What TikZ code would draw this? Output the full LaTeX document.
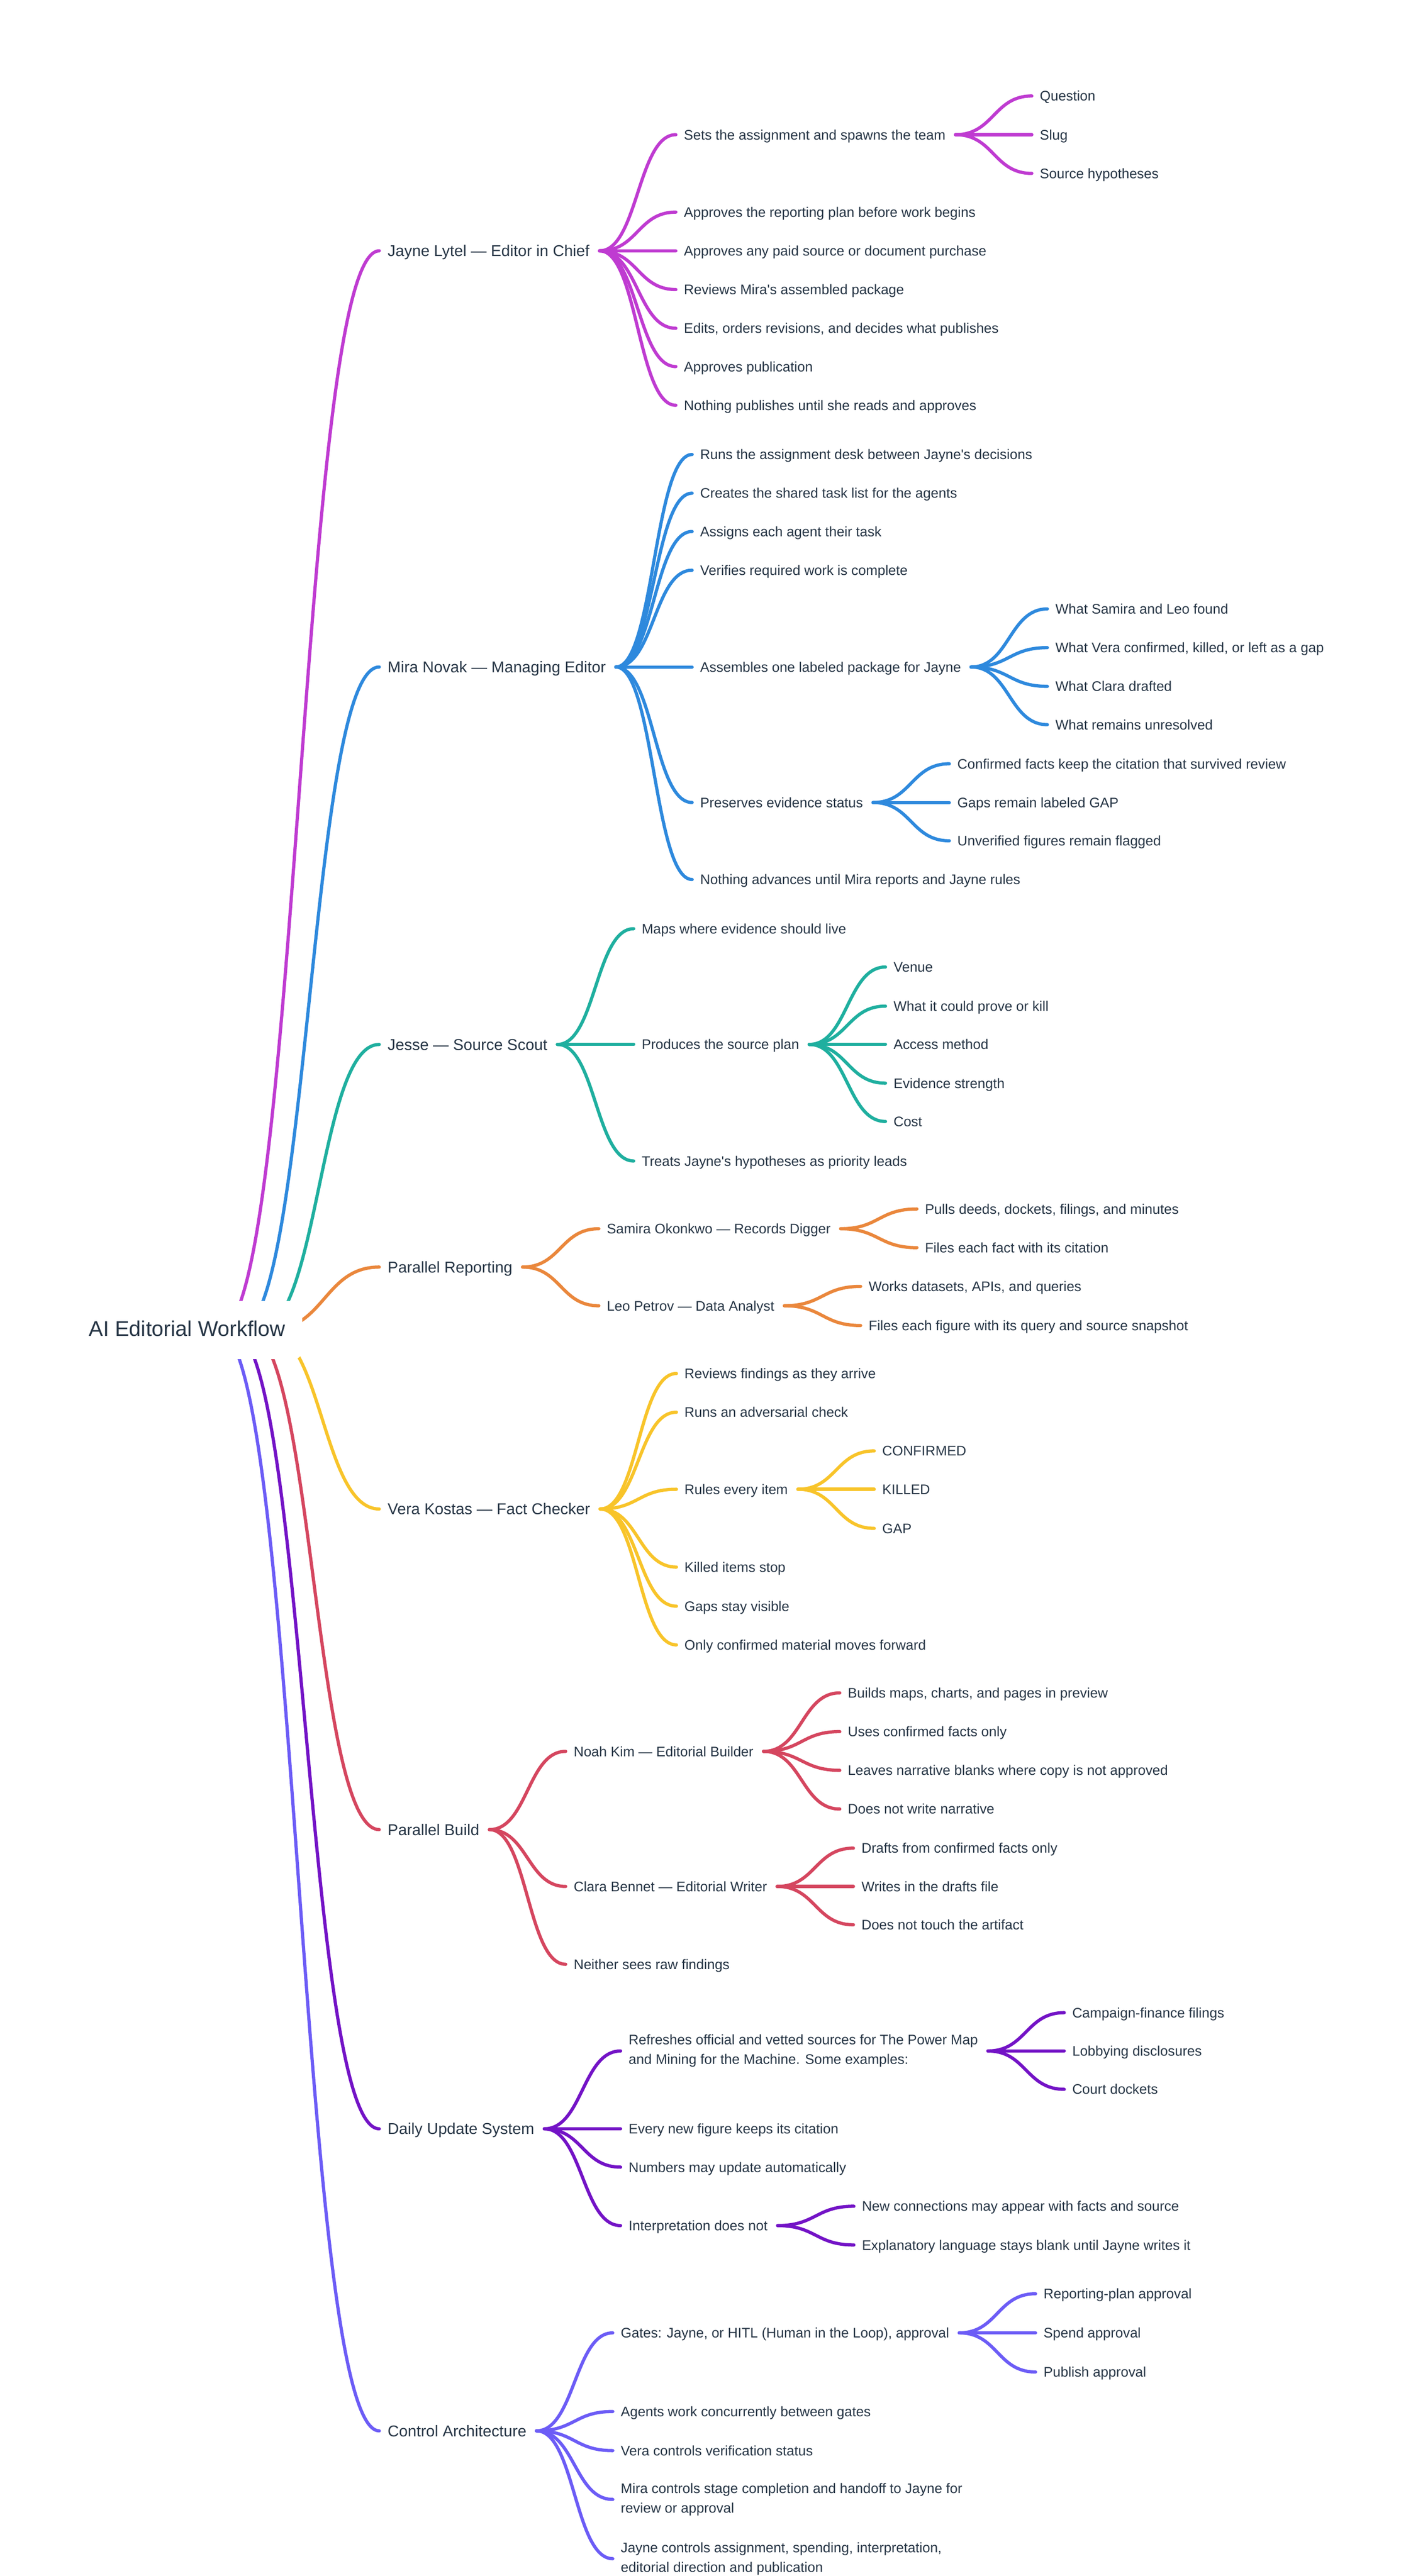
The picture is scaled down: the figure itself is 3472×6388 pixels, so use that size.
\documentclass[tikz,border=0pt]{standalone}
\usepackage{fontspec}
\setmainfont{Liberation Sans}
\usetikzlibrary{calc}
\definecolor{txt}{HTML}{263545}
\definecolor{cA}{HTML}{BF3BD1}
\definecolor{cB}{HTML}{2E89DD}
\definecolor{cC}{HTML}{1FAF9F}
\definecolor{cD}{HTML}{EA873C}
\definecolor{cE}{HTML}{F8C42A}
\definecolor{cF}{HTML}{D5465F}
\definecolor{cG}{HTML}{7313C6}
\definecolor{cH}{HTML}{6C5CF6}
\tikzset{
  leaf/.style={anchor=west,inner sep=0pt,outer sep=0pt,text=txt,font=\fontsize{6.88}{9.7}\selectfont,text height=4.93pt,text depth=0pt},
  multi/.style={leaf,align=left,text height={},text depth={}},
  lvl/.style={anchor=west,inner sep=0pt,outer sep=0pt,text=txt,font=\fontsize{7.78}{10}\selectfont,text height=5.57pt,text depth=0pt},
  rootnode/.style={inner sep=0pt,outer sep=0pt,text=txt,font=\fontsize{10.58}{12}\selectfont},
  lk/.style={line width=1.6pt,line cap=round},
  rlk/.style={line width=1.6pt,line cap=round},
}
\newcommand\mmlink[3]{%
  \draw[lk,#1] let \p1=($(#2.east)+(25,0)$), \p2=($(#3.west)+(-20,0)$) in
    (\p1) .. controls ({0.5*\x1+0.5*\x2},\y1) and ({0.5*\x1+0.5*\x2},\y2) .. (\p2);}
\newcommand\mmkid[5]{%
  \node[leaf] (#3) at ($(#2.east |- 0,#4)+(234,0)$) {#5};
  \mmlink{#1}{#2}{#3}}
\newcommand\mmkidm[5]{%
  \node[multi] (#3) at ($(#2.east |- 0,#4)+(234,0)$) {#5};
  \mmlink{#1}{#2}{#3}}
\newcommand\mmroot[3]{%
  \draw[rlk,#1] let \p1=(#3,3298), \p2=($(#2.west)+(-21,0)$) in
    (\p1) .. controls ({0.5*\x1+0.5*\x2},\y1) and ({0.5*\x1+0.5*\x2},\y2) .. (\p2);}
\newcommand\q{\textquotesingle}
\begin{document}
\begin{tikzpicture}[x=0.2pt,y=-0.2pt]
\fill[white] (0,0) rectangle (3472,6388);
\useasboundingbox (0,0) rectangle (3472,6388);

% ---------- Jayne
\node[lvl] (J) at (961,622) {Jayne Lytel — Editor in Chief};
\mmkid{cA}{J}{j1}{334}{Sets the assignment and spawns the team}
\mmkid{cA}{j1}{j1a}{238}{Question}
\mmkid{cA}{j1}{j1b}{334}{Slug}
\mmkid{cA}{j1}{j1c}{430}{Source hypotheses}
\mmkid{cA}{J}{j2}{526}{Approves the reporting plan before work begins}
\mmkid{cA}{J}{j3}{622}{Approves any paid source or document purchase}
\mmkid{cA}{J}{j4}{718}{Reviews Mira\q s assembled package}
\mmkid{cA}{J}{j5}{814}{Edits, orders revisions, and decides what publishes}
\mmkid{cA}{J}{j6}{909}{Approves publication}
\mmkid{cA}{J}{j7}{1005}{Nothing publishes until she reads and approves}

% ---------- Mira
\node[lvl] (M) at (961,1654) {Mira Novak — Managing Editor};
\mmkid{cB}{M}{m1}{1127}{Runs the assignment desk between Jayne\q s decisions}
\mmkid{cB}{M}{m2}{1223}{Creates the shared task list for the agents}
\mmkid{cB}{M}{m3}{1318}{Assigns each agent their task}
\mmkid{cB}{M}{m4}{1414}{Verifies required work is complete}
\mmkid{cB}{M}{m5}{1654}{Assembles one labeled package for Jayne}
\mmkid{cB}{m5}{m5a}{1510}{What Samira and Leo found}
\mmkid{cB}{m5}{m5b}{1606}{What Vera confirmed, killed, or left as a gap}
\mmkid{cB}{m5}{m5c}{1702}{What Clara drafted}
\mmkid{cB}{m5}{m5d}{1797}{What remains unresolved}
\mmkid{cB}{M}{m6}{1990}{Preserves evidence status}
\mmkid{cB}{m6}{m6a}{1894}{Confirmed facts keep the citation that survived review}
\mmkid{cB}{m6}{m6b}{1990}{Gaps remain labeled GAP}
\mmkid{cB}{m6}{m6c}{2085}{Unverified figures remain flagged}
\mmkid{cB}{M}{m7}{2181}{Nothing advances until Mira reports and Jayne rules}

% ---------- Jesse
\node[lvl] (S) at (961,2590) {Jesse — Source Scout};
\mmkid{cC}{S}{s1}{2303}{Maps where evidence should live}
\mmkid{cC}{S}{s2}{2590}{Produces the source plan}
\mmkid{cC}{s2}{s2a}{2398}{Venue}
\mmkid{cC}{s2}{s2b}{2495}{What it could prove or kill}
\mmkid{cC}{s2}{s2c}{2590}{Access method}
\mmkid{cC}{s2}{s2d}{2686}{Evidence strength}
\mmkid{cC}{s2}{s2e}{2781}{Cost}
\mmkid{cC}{S}{s3}{2879}{Treats Jayne\q s hypotheses as priority leads}

% ---------- Parallel Reporting
\node[lvl] (P) at (961,3142) {Parallel Reporting};
\mmkid{cD}{P}{p1}{3047}{Samira Okonkwo — Records Digger}
\mmkid{cD}{p1}{p1a}{2998}{Pulls deeds, dockets, filings, and minutes}
\mmkid{cD}{p1}{p1b}{3094}{Files each fact with its citation}
\mmkid{cD}{P}{p2}{3238}{Leo Petrov — Data Analyst}
\mmkid{cD}{p2}{p2a}{3190}{Works datasets, APIs, and queries}
\mmkid{cD}{p2}{p2b}{3287}{Files each figure with its query and source snapshot}

% ---------- Vera
\node[lvl] (V) at (961,3742) {Vera Kostas — Fact Checker};
\mmkid{cE}{V}{v1}{3406}{Reviews findings as they arrive}
\mmkid{cE}{V}{v2}{3502}{Runs an adversarial check}
\mmkid{cE}{V}{v3}{3693}{Rules every item}
\mmkid{cE}{v3}{v3a}{3598}{CONFIRMED}
\mmkid{cE}{v3}{v3b}{3693}{KILLED}
\mmkid{cE}{v3}{v3c}{3790}{GAP}
\mmkid{cE}{V}{v4}{3886}{Killed items stop}
\mmkid{cE}{V}{v5}{3983}{Gaps stay visible}
\mmkid{cE}{V}{v6}{4079}{Only confirmed material moves forward}

% ---------- Parallel Build
\node[lvl] (B) at (961,4537) {Parallel Build};
\mmkid{cF}{B}{b1}{4343}{Noah Kim — Editorial Builder}
\mmkid{cF}{b1}{b1a}{4198}{Builds maps, charts, and pages in preview}
\mmkid{cF}{b1}{b1b}{4294}{Uses confirmed facts only}
\mmkid{cF}{b1}{b1c}{4390}{Leaves narrative blanks where copy is not approved}
\mmkid{cF}{b1}{b1d}{4486}{Does not write narrative}
\mmkid{cF}{B}{b2}{4678}{Clara Bennet — Editorial Writer}
\mmkid{cF}{b2}{b2a}{4583}{Drafts from confirmed facts only}
\mmkid{cF}{b2}{b2b}{4678}{Writes in the drafts file}
\mmkid{cF}{b2}{b2c}{4773}{Does not touch the artifact}
\mmkid{cF}{B}{b3}{4871}{Neither sees raw findings}

% ---------- Daily Update System
\node[lvl] (D) at (961,5279) {Daily Update System};
\mmkidm{cG}{D}{d1}{5086}{Refreshes official and vetted sources for The Power Map\\and Mining for the Machine. Some examples:}
\mmkid{cG}{d1}{d1a}{4991}{Campaign-finance filings}
\mmkid{cG}{d1}{d1b}{5086}{Lobbying disclosures}
\mmkid{cG}{d1}{d1c}{5181}{Court dockets}
\mmkid{cG}{D}{d2}{5279}{Every new figure keeps its citation}
\mmkid{cG}{D}{d3}{5374}{Numbers may update automatically}
\mmkid{cG}{D}{d4}{5519}{Interpretation does not}
\mmkid{cG}{d4}{d4a}{5471}{New connections may appear with facts and source}
\mmkid{cG}{d4}{d4b}{5567}{Explanatory language stays blank until Jayne writes it}

% ---------- Control Architecture
\node[lvl] (C) at (961,6028) {Control Architecture};
\mmkid{cH}{C}{c1}{5785}{Gates: Jayne, or HITL (Human in the Loop), approval}
\mmkid{cH}{c1}{c1a}{5688}{Reporting-plan approval}
\mmkid{cH}{c1}{c1b}{5785}{Spend approval}
\mmkid{cH}{c1}{c1c}{5882}{Publish approval}
\mmkid{cH}{C}{c2}{5980}{Agents work concurrently between gates}
\mmkid{cH}{C}{c3}{6077}{Vera controls verification status}
\mmkidm{cH}{C}{c4}{6198}{Mira controls stage completion and handoff to Jayne for\\review or approval}
\mmkidm{cH}{C}{c5}{6345}{Jayne controls assignment, spending, interpretation,\\editorial direction and publication}

% ---------- root links
\mmroot{cA}{J}{544}
\mmroot{cB}{M}{594}
\mmroot{cC}{S}{641}
\mmroot{cD}{P}{668}
\mmroot{cE}{V}{658}
\mmroot{cF}{B}{614}
\mmroot{cG}{D}{575}
\mmroot{cH}{C}{540}

% ---------- root
\fill[white,rounded corners=4pt] (179,3226) rectangle (749,3370);
\node[rootnode,anchor=base] (R) at (464,3314) {AI Editorial Workflow};
\end{tikzpicture}
\end{document}
